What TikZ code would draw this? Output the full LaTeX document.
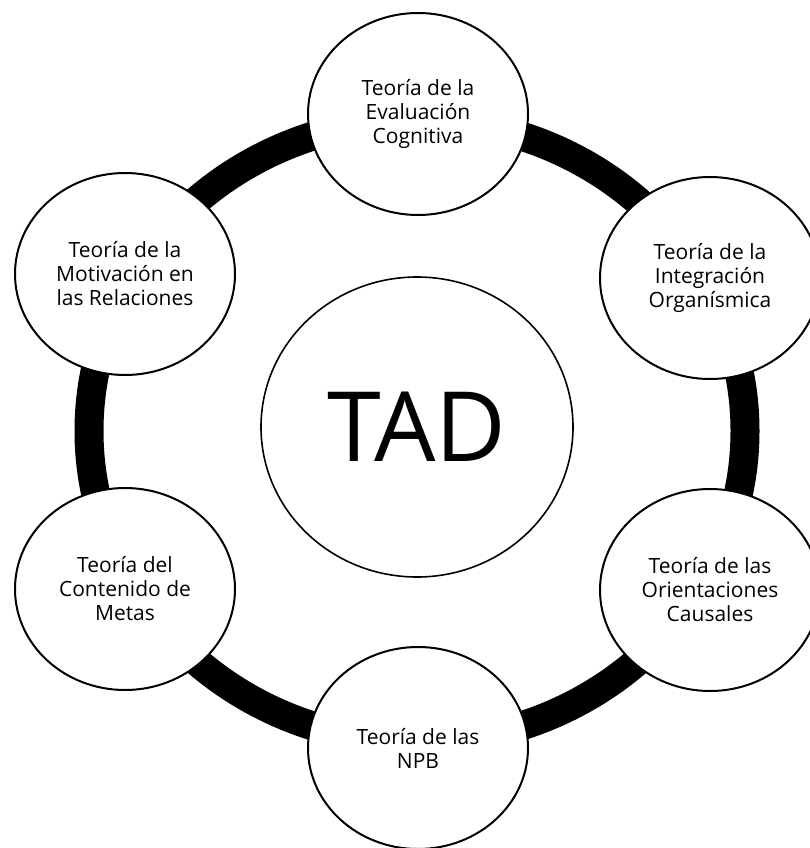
\documentclass[tikz,border=0pt]{standalone}
\usepackage{fontspec}
\setmainfont{Open Sans}
\usetikzlibrary{shapes.geometric}

\begin{document}
\begin{tikzpicture}[x=1pt,y=-1pt,
  theory/.style={ellipse, draw=black, line width=2pt, fill=white,
    minimum width=220pt, minimum height=202pt, inner sep=0pt,
    align=center, font=\fontsize{21}{24}\selectfont},
  core/.style={ellipse, draw=black, line width=1.6pt, fill=white,
    minimum width=312pt, minimum height=300pt, inner sep=0pt,
    font=\fontsize{97}{100}\selectfont}]
  \useasboundingbox (0,0) rectangle (810,848);

  % the thick ring that links the six theories
  \draw[line width=29pt] (417,431) ellipse [x radius=328pt, y radius=311pt];

  % the central concept
  \node[core] (tad) at (417,427) {TAD};

  % the six mini-theories around it
  \node[theory] (eval) at (418,114) {Teoría de la\\Evaluación\\Cognitiva};
  \node[theory] (integ) at (710,278) {Teoría de la\\Integración\\Organísmica};
  \node[theory] (orient) at (710,590) {Teoría de las\\Orientaciones\\Causales};
  \node[theory] (npb) at (418,748) {Teoría de las\\NPB};
  \node[theory] (metas) at (125,589) {Teoría del\\Contenido de\\Metas};
  \node[theory] (relac) at (125,274) {Teoría de la\\Motivación en\\las Relaciones};
\end{tikzpicture}
\end{document}
